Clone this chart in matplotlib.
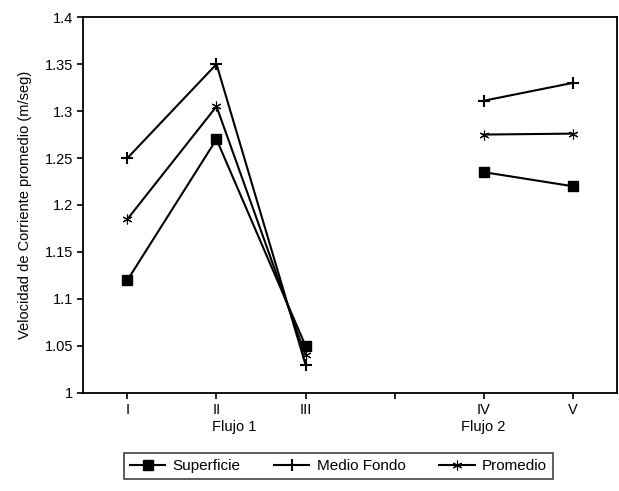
import numpy as np
import matplotlib
matplotlib.use("Agg")
import matplotlib.pyplot as plt
from matplotlib.transforms import blended_transform_factory

plt.rcParams['font.family'] = ['Liberation Sans', 'DejaVu Sans']

categories = ['I', 'II', 'III', '', 'IV', 'V']
superficie = [1.12, 1.27, 1.05, np.nan, 1.235, 1.22]
medio_fondo = [1.25, 1.35, 1.03, np.nan, 1.311, 1.330]
promedio = [1.185, 1.305, 1.04, np.nan, 1.275, 1.276]
group_labels = ['Flujo 1', 'Flujo 2']
group_pos = [2.2, 5.0]
yticks = [1, 1.05, 1.1, 1.15, 1.2, 1.25, 1.3, 1.35, 1.4]
ytick_labels = ['1', '1.05', '1.1', '1.15', '1.2', '1.25', '1.3', '1.35', '1.4']

fig = plt.figure(figsize=(6.19, 4.91), dpi=100)
ax = fig.add_axes([0.134, 0.2, 0.863, 0.765])

x = np.arange(1, len(categories) + 1)
ax.plot(x, superficie, color='black', lw=1.5, marker='s', ms=6.5, label='Superficie')
ax.plot(x, medio_fondo, color='black', lw=1.5, marker='+', ms=9, mew=1.5, label='Medio Fondo')
ax.plot(x, promedio, color='black', lw=1.5, marker=(6, 2, 0), ms=7, mew=0.8, label='Promedio')

ax.set_xlim(0.5, 6.5)
ax.set_ylim(1.0, 1.4)
ax.set_xticks(x)
ax.set_xticklabels(categories, fontsize=10.5)
ax.set_yticks(yticks)
ax.set_yticklabels(ytick_labels, fontsize=10.5)
ax.tick_params(direction='out', length=4, width=1.2, pad=3)
for s in ax.spines.values():
    s.set_linewidth(1.3)

ax.set_ylabel('Velocidad de Corriente promedio (m/seg)', fontsize=10.5, labelpad=9)

trans = blended_transform_factory(ax.transData, fig.transFigure)
for lab, p in zip(group_labels, group_pos):
    ax.text(p, (491 - 427) / 491, lab, transform=trans, ha='center', va='center', fontsize=10.5)

leg = fig.legend(loc='center', bbox_to_anchor=(0.547, (491 - 466) / 491), ncol=3,
                 frameon=True, fancybox=False, edgecolor='black', fontsize=11,
                 handlelength=2.3, columnspacing=2.2, handletextpad=0.5,
                 borderpad=0.4, borderaxespad=0)
leg.get_frame().set_linewidth(1.1)

fig.savefig('out.png', dpi=100)
